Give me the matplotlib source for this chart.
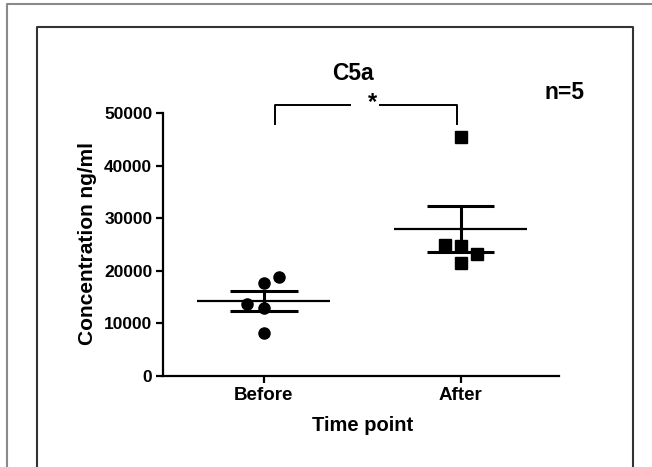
import matplotlib.pyplot as plt
import numpy as np
from matplotlib.lines import Line2D

plt.rcParams['font.family'] = ['Liberation Sans', 'DejaVu Sans']
plt.rcParams['font.weight'] = 'bold'
plt.rcParams['axes.labelweight'] = 'bold'

groups = ["Before", "After"]
before = [18750, 17720, 13660, 12840, 8190]
after = [45430, 24900, 24710, 23190, 21530]
# sideways spread of the dots, in category units
before_dx = [0.078, 0.0, -0.084, 0.0, 0.0]
after_dx = [0.0, -0.08, 0.0, 0.082, 0.0]
yticks = [0, 10000, 20000, 30000, 40000, 50000]
bracket_y = 51600
bracket_leg = 47950

W, H = 652, 467
fig = plt.figure(figsize=(W / 100, H / 100), dpi=100)
ax = fig.add_axes([163.4 / W, 1 - 375.7 / H, 395.6 / W, 262.4 / H])

def px(x, y):
    return x / W, 1 - y / H

# picture frames
fig.lines.append(Line2D([px(7.3, 0)[0], px(7.3, 0)[0], 1.0], [0.0, px(0, 4)[1], px(0, 4)[1]],
                        transform=fig.transFigure, color='#8a8a8a', lw=1.5))
fig.lines.append(Line2D([px(37.3, 0)[0], px(37.3, 0)[0], px(633.3, 0)[0], px(633.3, 0)[0]],
                        [0.0, px(0, 27.3)[1], px(0, 27.3)[1], 0.0],
                        transform=fig.transFigure, color='#333333', lw=1.5))

for i, (vals, dx, mk) in enumerate([(before, before_dx, 'o'), (after, after_dx, 's')]):
    vals = np.array(vals)
    xs = i + np.array(dx)
    ax.plot(xs, vals, mk, color='black', ms=8, ls='none', clip_on=False, zorder=3)
    m = vals.mean()
    sem = vals.std(ddof=1) / np.sqrt(len(vals))
    ax.hlines(m, i - 0.338, i + 0.338, color='black', lw=1.6)
    ax.hlines([m - sem, m + sem], i - 0.171, i + 0.171, color='black', lw=2.2)
    ax.vlines(i, m - sem, m + sem, color='black', lw=2.2)

# significance bracket
ax.plot([0.056, 0.056, 0.437], [bracket_leg, bracket_y, bracket_y], color='black', lw=1.4, clip_on=False)
ax.plot([0.59, 0.98, 0.98], [bracket_y, bracket_y, bracket_leg], color='black', lw=1.4, clip_on=False)
ax.text(0.55, bracket_y + 500, "*", ha='center', va='center', fontsize=17, fontweight='bold')

ax.set_xlim(-0.511, 1.5)
ax.set_ylim(0, 50000)
ax.set_xticks(range(len(groups)))
ax.set_xticklabels(groups, fontsize=13.5)
ax.set_yticks(yticks)
ax.set_yticklabels([str(t) for t in yticks], fontsize=12.5)
ax.spines['top'].set_visible(False)
ax.spines['right'].set_visible(False)
for s in ['left', 'bottom']:
    ax.spines[s].set_linewidth(1.6)
ax.tick_params(axis='both', width=1.6, length=5, pad=3)

ax.set_ylabel("Concentration ng/ml", fontsize=15, fontweight='bold', va='center')
ax.yaxis.set_label_coords(-0.192, 0.502)
ax.set_xlabel("Time point", fontsize=14.5, fontweight='bold', va='center')
ax.xaxis.set_label_coords(0.5045, -0.188)

fig.text(*px(352.6, 74), "C5a", ha='center', va='center', fontsize=16.5, fontweight='bold')
fig.text(*px(564, 92.7), "n=5", ha='center', va='center', fontsize=16.5, fontweight='bold')

fig.savefig("out.png", dpi=100)
